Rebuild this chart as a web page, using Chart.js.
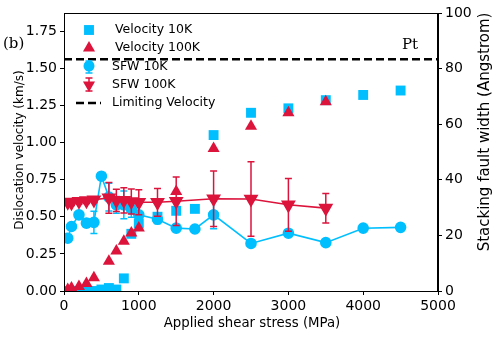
<!DOCTYPE html>
<html>
<head>
<meta charset="utf-8">
<script src="https://cdn.jsdelivr.net/npm/chart.js@4/dist/chart.umd.min.js"></script>
<style>
  html, body { margin: 0; padding: 0; background: #fff; }
  #wrap { width: 499px; height: 338px; }
</style>
</head>
<body>
<div id="wrap"><canvas id="chart" width="499" height="338"></canvas></div>
<script>
// data
const vel10kStress = [50, 100, 200, 300, 400, 500, 600, 700, 800, 900, 1000, 1250, 1500, 1750, 2000, 2500, 3000, 3500, 4000, 4500];
const vel10k = [0, 0, 0, 0, 0, 0.01, 0.02, 0.01, 0.085, 0.385, 0.455, 0.50, 0.54, 0.553, 1.05, 1.20, 1.23, 1.285, 1.32, 1.35];

const vel100kStress = [50, 100, 200, 300, 400, 600, 700, 800, 900, 1000, 1500, 2000, 2500, 3000, 3500];
const vel100k = [0.01, 0.02, 0.03, 0.05, 0.09, 0.2, 0.27, 0.335, 0.39, 0.425, 0.67, 0.96, 1.11, 1.2, 1.275];

const sfw10kStress = [50, 100, 200, 300, 400, 500, 600, 700, 800, 900, 1000, 1250, 1500, 1750, 2000, 2500, 3000, 3500, 4000, 4500];
const sfw10k = [19.0, 23.2, 27.4, 24.4, 24.7, 41.3, 33.8, 31.0, 31.0, 29.5, 27.4, 25.8, 22.6, 22.3, 27.4, 17.1, 20.8, 17.4, 22.6, 22.9];
const sfw10kErr = [0, 0, 0, 1.5, 4, 0, 5, 3, 5, 3, 1, 1.5, 0.5, 0.5, 5, 0, 0, 0, 0, 0];

const sfw100kStress = [50, 100, 200, 300, 400, 600, 700, 800, 900, 1000, 1250, 1500, 2000, 2500, 3000, 3500];
const sfw100k = [32.0, 31.8, 32.3, 32.5, 32.8, 33.5, 32.6, 32.6, 32.2, 31.9, 31.9, 32.3, 33.2, 33.1, 31.0, 29.8];
const sfw100kErr = [1, 1, 1, 1, 1, 5.5, 4, 4.5, 4.5, 4.5, 5, 8.7, 10, 13.4, 9.5, 5.3];

const limitStress = [0, 5000];
const limitVel = [1.56, 1.56];

const xTicks = [0, 1000, 2000, 3000, 4000, 5000];

const CYAN = "#00bfff", RED = "#dc143c";
const TICK_FONT = { family: "DejaVu Sans", size: 14 };

const pts = (xs, ys) => xs.map((x, i) => ({ x, y: ys[i] }));
const errs = {}; // dataset index -> error array

const datasets = [
  { label: "Velocity 10K", type: "scatter", data: pts(vel10kStress, vel10k), yAxisID: "y",
    pointStyle: "rect", pointRadius: 7, backgroundColor: CYAN, borderColor: CYAN, borderWidth: 0, order: 5 },
  { label: "Velocity 100K", type: "scatter", data: pts(vel100kStress, vel100k), yAxisID: "y",
    pointStyle: "triangle", pointRadius: 7, backgroundColor: RED, borderColor: RED, borderWidth: 0, order: 4 },
  { label: "SFW 10K", type: "line", data: pts(sfw10kStress, sfw10k), yAxisID: "y2",
    pointStyle: "circle", pointRadius: 5, backgroundColor: CYAN, borderColor: CYAN, borderWidth: 1.6, order: 2 },
  { label: "SFW 100K", type: "line", data: pts(sfw100kStress, sfw100k), yAxisID: "y2",
    pointStyle: "triangle", rotation: 180, pointRadius: 7, backgroundColor: RED, borderColor: RED, borderWidth: 1.6, order: 1 },
  { label: "Limiting Velocity", type: "line", data: pts(limitStress, limitVel), yAxisID: "y",
    borderColor: "#000", borderWidth: 2.5, borderDash: [8, 4], pointRadius: 0, order: 3 }
];
errs[2] = sfw10kErr;
errs[3] = sfw100kErr;

function marker(ctx, style, x, y, r, color, rot) {
  ctx.save();
  ctx.fillStyle = color;
  ctx.beginPath();
  if (style === "rect") {
    const s = r * Math.SQRT1_2;
    ctx.rect(x - s, y - s, 2 * s, 2 * s);
  } else if (style === "circle") {
    ctx.arc(x, y, r, 0, Math.PI * 2);
  } else {
    let a = rot ? Math.PI : 0;
    for (let k = 0; k < 3; k++) {
      const px = x + Math.sin(a) * r, py = y - Math.cos(a) * r;
      k ? ctx.lineTo(px, py) : ctx.moveTo(px, py);
      a += Math.PI * 2 / 3;
    }
    ctx.closePath();
  }
  ctx.fill();
  ctx.restore();
}

function errBar(ctx, x, yt, yb, color) {
  ctx.save();
  ctx.strokeStyle = color;
  ctx.lineWidth = 1.5;
  ctx.beginPath();
  ctx.moveTo(x, yt); ctx.lineTo(x, yb);
  ctx.moveTo(x - 3.5, yt); ctx.lineTo(x + 3.5, yt);
  ctx.moveTo(x - 3.5, yb); ctx.lineTo(x + 3.5, yb);
  ctx.stroke();
  ctx.restore();
}

const extras = {
  id: "extras",
  beforeDatasetDraw(chart, args) {
    const e = errs[args.index];
    if (!e) return;
    const ds = chart.data.datasets[args.index];
    const { x: xs, y2: ys } = chart.scales;
    const ctx = chart.ctx;
    ctx.save();
    const a = chart.chartArea;
    ctx.beginPath(); ctx.rect(a.left, a.top, a.right - a.left, a.bottom - a.top); ctx.clip();
    ds.data.forEach((p, i) => {
      if (!e[i]) return;
      errBar(ctx, xs.getPixelForValue(p.x), ys.getPixelForValue(p.y + e[i]), ys.getPixelForValue(p.y - e[i]), ds.borderColor);
    });
    ctx.restore();
  },
  afterDraw(chart) {
    const ctx = chart.ctx, a = chart.chartArea;
    ctx.save();
    // frame
    ctx.strokeStyle = "#000"; ctx.lineWidth = 1;
    ctx.strokeRect(a.left + 0.5, a.top + 0.5, a.right - a.left - 1, a.bottom - a.top);

    // legend
    ctx.fillStyle = "#000";
    ctx.font = "12.5px 'DejaVu Sans'";
    ctx.textBaseline = "middle";
    ctx.textAlign = "left";
    const mx = 89;
    marker(ctx, "rect", mx, 30, 7, CYAN);
    ctx.fillText("Velocity 10K", 115, 30);
    marker(ctx, "triangle", mx, 48, 7, RED);
    ctx.fillText("Velocity 100K", 115, 48);
    errBar(ctx, mx, 61, 73, CYAN);
    marker(ctx, "circle", mx, 66, 5.5, CYAN);
    ctx.fillText("SFW 10K", 112, 66.5);
    errBar(ctx, mx, 78, 91, RED);
    marker(ctx, "triangle", mx, 85, 7, RED, true);
    ctx.fillText("SFW 100K", 112, 85);
    ctx.save();
    ctx.strokeStyle = "#000"; ctx.lineWidth = 2.5; ctx.setLineDash([8, 4]);
    ctx.beginPath(); ctx.moveTo(76, 103); ctx.lineTo(101, 103); ctx.stroke();
    ctx.restore();
    ctx.fillText("Limiting Velocity", 112, 103);

    // panel label and material
    ctx.font = "15px 'DejaVu Serif'";
    ctx.fillText("(b)", 3, 44);
    ctx.fillText("Pt", 402, 45);

    // axis titles
    ctx.font = "13.3px 'DejaVu Sans'";
    ctx.textAlign = "center";
    ctx.fillText("Applied shear stress (MPa)", 252, 324);
    ctx.save();
    ctx.translate(20, 150);
    ctx.rotate(-Math.PI / 2);
    ctx.font = "12px 'DejaVu Sans'";
    ctx.fillText("Dislocation velocity (km/s)", 0, 0);
    ctx.restore();
    ctx.save();
    ctx.translate(485, 132);
    ctx.rotate(-Math.PI / 2);
    ctx.font = "15px 'DejaVu Sans'";
    ctx.fillText("Stacking fault width (Angstrom)", 0, 0);
    ctx.restore();
    ctx.restore();
  }
};

const axisCommon = {
  grid: { drawOnChartArea: false, drawTicks: true, tickLength: 4, tickColor: "#000", tickWidth: 1 },
  border: { display: true, color: "#000", width: 1 },
  ticks: { color: "#000", font: TICK_FONT, padding: 3 }
};

new Chart(document.getElementById("chart"), {
  data: { datasets },
  options: {
    responsive: false,
    animation: false,
    layout: { padding: { top: 13, left: 0, right: 0, bottom: 0 } },
    plugins: { legend: { display: false }, tooltip: { enabled: false } },
    scales: {
      x: {
        type: "linear", min: 0, max: 5000,
        ...axisCommon,
        ticks: { ...axisCommon.ticks, stepSize: 1000, maxRotation: 0, callback: v => xTicks.includes(v) ? String(v) : "" },
        afterFit: s => { s.height = 47; }
      },
      y: {
        type: "linear", position: "left", min: 0, max: 1.872,
        ...axisCommon,
        ticks: { ...axisCommon.ticks, stepSize: 0.25, includeBounds: false, callback: v => v.toFixed(2) },
        afterFit: s => { s.width = 64; }
      },
      y2: {
        type: "linear", position: "right", min: 0, max: 100,
        ...axisCommon,
        ticks: { ...axisCommon.ticks, stepSize: 20 },
        afterFit: s => { s.width = 61; }
      }
    }
  },
  plugins: [extras]
});
</script>
</body>
</html>
